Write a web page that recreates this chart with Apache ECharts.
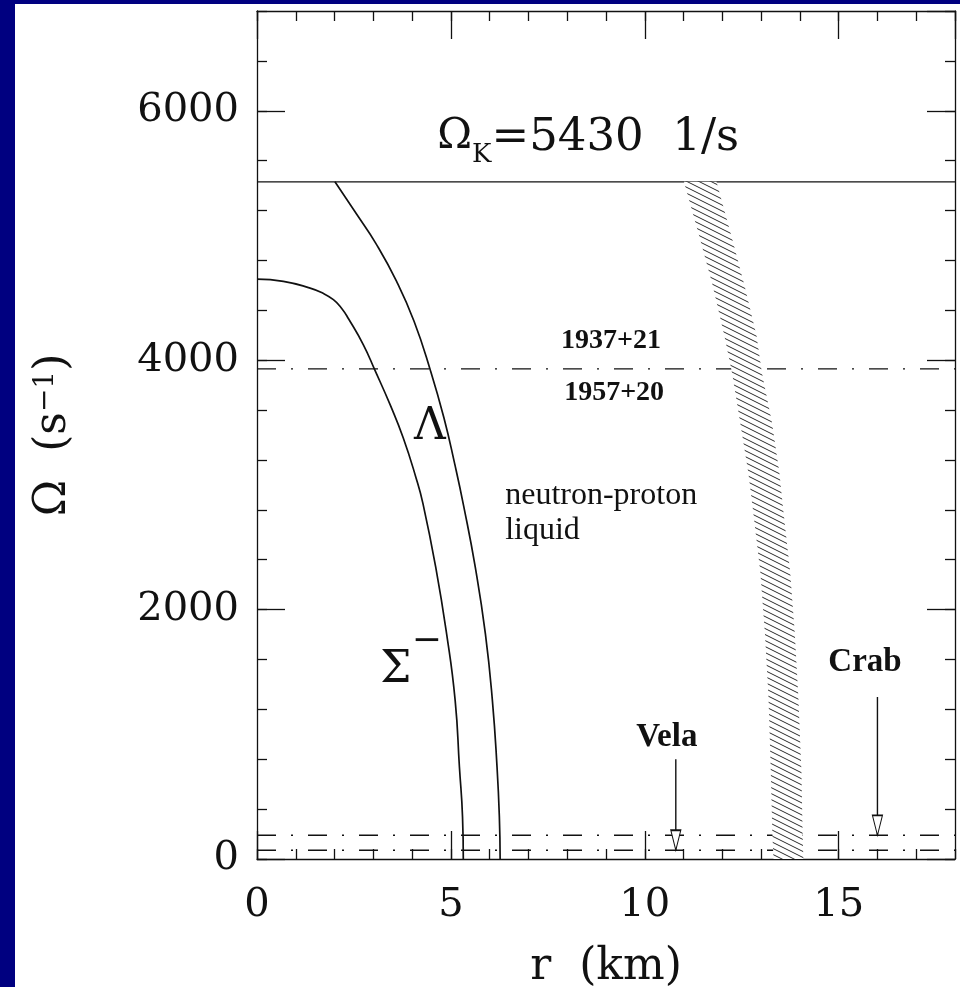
<!DOCTYPE html>
<html><head><meta charset="utf-8">
<script src="https://cdn.jsdelivr.net/npm/echarts@6/dist/echarts.min.js"></script>
<style>html,body{margin:0;padding:0;background:#000080;}#c{width:960px;height:987px;}</style>
</head><body><div id="c"></div>
<script>
// ---------- data ----------
const rMin = 0, rMax = 18;                 // km
const omegaMin = 0, omegaMax = 6800;       // 1/s
const omegaKepler = 5430;

// Sigma^- threshold curve (r in km, Omega in 1/s)
const sigmaR     = [0.00, 0.68, 1.37, 1.68, 1.97, 2.18, 2.36, 2.74, 3.04, 3.43, 3.77, 4.10, 4.28, 4.61, 4.89, 5.11, 5.22, 5.30, 5.32];
const sigmaOmega = [4650, 4632, 4578, 4540, 4485, 4417, 4332, 4125, 3920, 3645, 3378, 3058, 2850, 2338, 1805, 1272,  738,  338,    0];

// Lambda threshold curve
const lambdaR     = [2.01, 2.58, 3.06, 3.60, 4.05, 4.47, 4.82, 5.10, 5.33, 5.63, 5.89, 6.07, 6.19, 6.25, 6.27];
const lambdaOmega = [5430, 5166, 4939, 4632, 4312, 3920, 3538, 3166, 2830, 2338, 1805, 1272,  738,  338,    0];

// hatched band (stellar surface), left and right edges
const bandOmega  = [5430, 5000, 4600, 4200, 3900, 3500, 3100, 2800, 2300, 1800, 1300,  700,  200,    0];
const bandLeftR  = [11.01,11.40,11.75,12.05,12.25,12.46,12.67,12.79,12.98,13.10,13.19,13.25,13.29,13.32];
const bandRightR = [11.85,12.23,12.57,12.88,13.02,13.28,13.47,13.57,13.75,13.87,13.96,14.04,14.07,14.09];

// pulsar frequencies (dash-dot lines): 1937+21/1957+20, Crab, Vela
const pulsarOmega = [3930, 190, 70];

// arrows
const arrowName  = ['Vela', 'Crab'];
const arrowR     = [10.8, 16.0];
const arrowFrom  = [800, 1300];
const arrowTo    = [70, 190];

// axis ticks
const xMajor = 5, xMinor = 1, yMajor = 2000, yMinor = 400;

// ---------- chart ----------
const ink = '#111';
const serif = 'DejaVu Serif';

// hatch pattern
const TW = 12, TH = 6;
const tile = document.createElement('canvas');
tile.width = TW; tile.height = TH;
(function(){
  const c = tile.getContext('2d');
  c.fillStyle = '#fff'; c.fillRect(0,0,TW,TH);
  c.strokeStyle = '#2a2a2a'; c.lineWidth = 1;
  [-TH,0,TH].forEach(function(o){ c.beginPath(); c.moveTo(0,o); c.lineTo(TW,TH+o); c.stroke(); });
})();
const hatch = {image: tile, repeat: 'repeat'};

function mkX(pos, interval, len, labels, line){
  return {
    type:'value', position:pos, min:rMin, max:rMax, interval:interval,
    axisLine:{show:line, onZero:false, lineStyle:{color:ink, width:1.3}},
    axisTick:{show:true, inside:true, length:len, lineStyle:{color:ink, width:1.3}},
    axisLabel:{show:labels, margin:27, fontFamily:serif, fontSize:40, color:'#111', showMaxLabel:false,
               formatter:function(v){ return String(v); }},
    splitLine:{show:false}, minorTick:{show:false}
  };
}
function mkY(pos, interval, len, labels, line){
  return {
    type:'value', position:pos, min:omegaMin, max:omegaMax, interval:interval,
    axisLine:{show:line, onZero:false, lineStyle:{color:ink, width:1.3}},
    axisTick:{show:true, inside:true, length:len, lineStyle:{color:ink, width:1.3}},
    axisLabel:{show:labels, margin:18, fontFamily:serif, fontSize:40, color:'#111', showMaxLabel:false, padding:[7,0,0,0],
               formatter:function(v){ return String(v); }},
    splitLine:{show:false}, minorTick:{show:false}
  };
}

const xAxes = [mkX('bottom', xMajor, 28, true, true), mkX('bottom', xMinor, 10, false, false),
               mkX('top', xMajor, 28, false, true), mkX('top', xMinor, 10, false, false)];
xAxes[0].name = 'r  (km)';
xAxes[0].nameLocation = 'middle';
xAxes[0].nameGap = 87;
xAxes[0].nameTextStyle = {fontFamily:serif, fontSize:44, color:'#111'};

const yAxes = [mkY('left', yMajor, 28, true, true), mkY('left', yMinor, 10, false, false),
               mkY('right', yMajor, 28, false, true), mkY('right', yMinor, 10, false, false)];
yAxes[0].name = '{a|Ω  (s}{b|−1}{a|)}';
yAxes[0].nameLocation = 'middle';
yAxes[0].nameRotate = 90;
yAxes[0].nameGap = 181;
yAxes[0].nameTextStyle = {color:'#111', rich:{
  a:{fontFamily:serif, fontSize:44, lineHeight:44, verticalAlign:'bottom', color:'#111'},
  b:{fontFamily:serif, fontSize:28, lineHeight:28, verticalAlign:'top', color:'#111'}
}};

function zip(a,b){ return a.map(function(v,i){ return [v, b[i]]; }); }

const series = [];

// pulsar dash-dot lines
pulsarOmega.forEach(function(w){
  series.push({type:'line', data:[[rMin,w],[rMax,w]], symbol:'none', silent:true, z:2,
    lineStyle:{color:ink, width:1.4, type:[19,15,2,15]}});
});
// Kepler line
series.push({type:'line', data:[[rMin,omegaKepler],[rMax,omegaKepler]], symbol:'none', silent:true, z:2,
  lineStyle:{color:ink, width:1.3, type:'solid'}});

// curves
series.push({type:'line', name:'Sigma-', data:zip(sigmaR, sigmaOmega), symbol:'none', smooth:0.5, z:3,
  lineStyle:{color:ink, width:1.7}});
series.push({type:'line', name:'Lambda', data:zip(lambdaR, lambdaOmega), symbol:'none', smooth:0.5, z:3,
  lineStyle:{color:ink, width:1.7}});

// hatched band
series.push({type:'custom', name:'band', clip:true, z:4, silent:true,
  data: bandOmega.map(function(w,i){ return [bandLeftR[i], bandRightR[i], w]; }),
  encode:{x:[0,1], y:2},
  renderItem:function(params, api){
    if (params.dataIndex !== 0) return null;
    const pts = [];
    for (let i=0;i<bandOmega.length;i++) pts.push(api.coord([bandLeftR[i], bandOmega[i]]));
    for (let i=bandOmega.length-1;i>=0;i--) pts.push(api.coord([bandRightR[i], bandOmega[i]]));
    return {type:'polygon', shape:{points:pts}, style:{fill:hatch, stroke:null}};
  }
});

// arrows
arrowName.forEach(function(n,i){
  series.push({type:'line', name:n+' arrow', silent:true, z:5,
    lineStyle:{color:ink, width:1.4},
    itemStyle:{color:'#fff', borderColor:ink, borderWidth:1.3},
    data:[{value:[arrowR[i], arrowFrom[i]], symbol:'none'},
          {value:[arrowR[i], arrowTo[i]], symbol:'path://M0,0 L10,0 L5,20 Z', symbolSize:[10,20], symbolOffset:[0,'-50%']}]
  });
});

// text annotations (anchored in data coordinates)
const annText = [
  {t:'{o|Ω}{k|K}{t|=' + omegaKepler + '  1/s}', r:8.54, w:5775,
    rich:{o:{fontFamily:serif,fontSize:42,lineHeight:46,verticalAlign:'top',fill:'#111'},
          k:{fontFamily:serif,fontSize:26,lineHeight:26,padding:[26,0,0,0],verticalAlign:'top',fill:'#111'},
          t:{fontFamily:serif,fontSize:45,lineHeight:46,verticalAlign:'top',fill:'#111'}}},
  {t:'1937+21', r:9.13, w:4152, ff:'Liberation Serif', fw:'bold', fs:28},
  {t:'1957+20', r:9.21, w:3736, ff:'Liberation Serif', fw:'bold', fs:28},
  {t:'neutron-proton', r:6.40, w:2912, ff:'Liberation Serif', fs:32, al:'left'},
  {t:'liquid', r:6.40, w:2632, ff:'Liberation Serif', fs:32, al:'left'},
  {t:'Λ', r:4.46, w:3460, ff:serif, fs:44},
  {t:'Σ', r:3.58, w:1515, ff:serif, fs:44},
  {t:'−', r:4.38, w:1745, ff:serif, fs:36},
  {t:'Vela', r:10.57, w:976, ff:'Liberation Serif', fw:'bold', fs:33},
  {t:'Crab', r:15.68, w:1576, ff:'Liberation Serif', fw:'bold', fs:33}
];
series.push({type:'custom', name:'labels', silent:true, z:6, clip:false,
  data: annText.map(function(a){ return [a.r, a.w]; }),
  renderItem:function(params, api){
    const a = annText[params.dataIndex];
    const p = api.coord([api.value(0), api.value(1)]);
    const st = {text:a.t, x:p[0], y:p[1], fill:'#111',
      align:a.al || 'center', verticalAlign:'middle'};
    if (a.rich) { st.rich = a.rich; }
    else { st.fontFamily = a.ff; st.fontSize = a.fs; st.fontWeight = a.fw || 'normal'; }
    return {type:'text', style:st};
  }
});

const chart = echarts.init(document.getElementById('c'), null, {renderer:'canvas', width:960, height:987});
chart.setOption({
  animation:false,
  backgroundColor:'#000080',
  grid:{left:257, top:11, right:5, bottom:128, containLabel:false, outerBoundsMode:'none'},
  graphic:[{type:'rect', z:-10, silent:true, shape:{x:15, y:4, width:945, height:983}, style:{fill:'#fff'}}],
  xAxis:xAxes,
  yAxis:yAxes,
  series:series.map(function(s){ s.xAxisIndex = 0; s.yAxisIndex = 0; return s; })
});
</script>
</body></html>
